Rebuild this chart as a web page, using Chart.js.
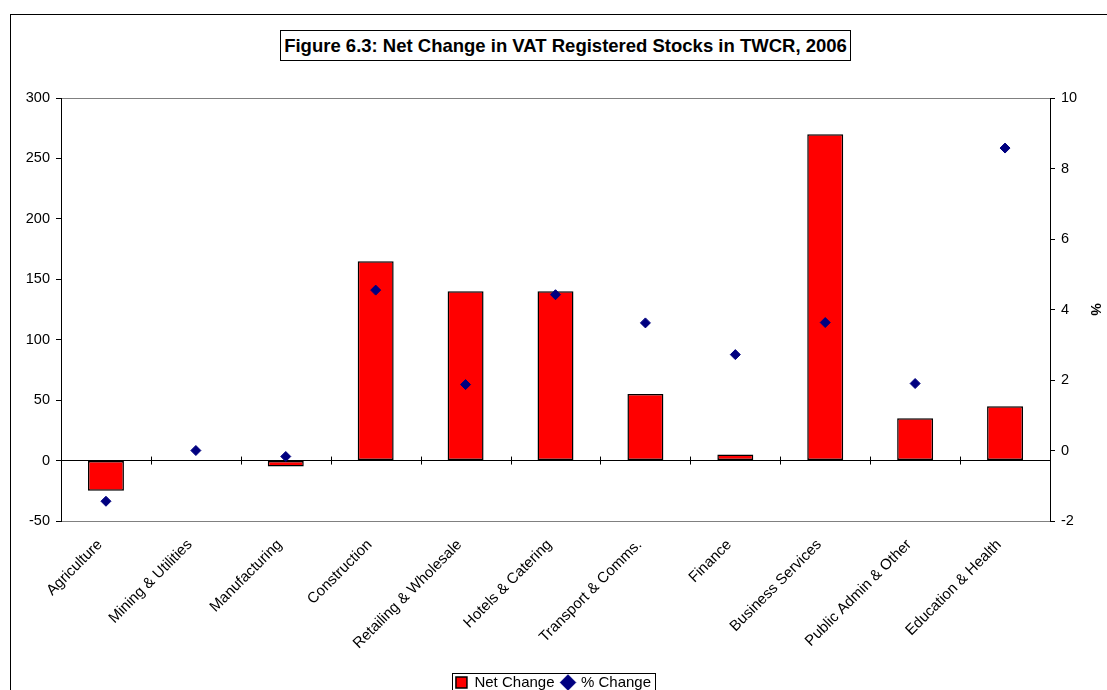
<!DOCTYPE html>
<html>
<head>
<meta charset="utf-8">
<script src="https://cdn.jsdelivr.net/npm/chart.js@4/dist/chart.umd.min.js"></script>
<style>
  html, body { margin: 0; padding: 0; background: #fff; overflow: hidden; }
  #frame { position: absolute; left: 10px; top: 14px; width: 1200px; height: 800px; border: 1.5px solid #000; box-sizing: border-box; }
  #wrap { position: absolute; left: 0; top: 0; width: 1107px; height: 700px; }
  #title { position: absolute; left: 280px; top: 30px; width: 571px; height: 31px; border: 1px solid #000; box-sizing: border-box;
    font: bold 18.5px "Liberation Sans", Arial, sans-serif; text-align: center; line-height: 29px; color: #000; background: #fff; white-space: nowrap; }
</style>
</head>
<body>
<div id="frame"></div>
<div id="wrap"><canvas id="chart" width="1107" height="700"></canvas></div>
<div id="title">Figure 6.3: Net Change in VAT Registered Stocks in TWCR, 2006</div>
<script>
const categories = ["Agriculture", "Mining & Utilities", "Manufacturing", "Construction", "Retailing & Wholesale",
  "Hotels & Catering", "Transport & Comms.", "Finance", "Business Services", "Public Admin & Other", "Education & Health"];
const netChange = [-25, 0, -5, 165, 140, 140, 55, 5, 270, 35, 45];
const pctChange = [-1.44, 0.0, -0.17, 4.55, 1.87, 4.42, 3.62, 2.72, 3.63, 1.9, 8.58];

const FONT = "'Liberation Sans', Arial, sans-serif";

// small crossing ticks on the zero line between categories + legend frame
const extras = {
  id: "extras",
  afterDraw(chart) {
    const { ctx, scales } = chart;
    const x = scales.x, y = scales.y;
    const y0 = y.getPixelForValue(0);
    const half = (x.getPixelForValue(1) - x.getPixelForValue(0)) / 2;
    ctx.save();
    ctx.strokeStyle = "#000";
    ctx.lineWidth = 1;
    ctx.beginPath();
    for (let i = 1; i < categories.length; i++) {
      const px = Math.round(x.getPixelForValue(i) - half) + 0.5;
      ctx.moveTo(px, y0 - 4);
      ctx.lineTo(px, y0 + 4);
    }
    ctx.stroke();
    const hb = chart.legend.legendHitBoxes;
    if (hb && hb.length) {
      const l = hb[0].left - 4, r = hb[hb.length - 1].left + hb[hb.length - 1].width + 4;
      const t = hb[0].top - 2, b = hb[0].top + hb[0].height + 4;
      ctx.strokeStyle = "#000";
      ctx.strokeRect(Math.round(l) + 0.5, Math.round(t) + 0.5, Math.round(r - l), Math.round(b - t));
    }
    ctx.restore();
  }
};

new Chart(document.getElementById("chart"), {
  data: {
    labels: categories,
    datasets: [
      {
        type: "scatter",
        label: "% Change",
        data: pctChange,
        yAxisID: "y1",
        backgroundColor: "#000080",
        borderColor: "#000080",
        pointStyle: "rectRot",
        pointRadius: 5,
        showLine: false,
        order: 0
      },
      {
        type: "bar",
        label: "Net Change",
        data: netChange,
        yAxisID: "y",
        backgroundColor: "#FF0000",
        borderColor: "#000",
        borderWidth: 1.5,
        borderSkipped: false,
        pointStyle: "rect",
        barPercentage: 0.4,
        categoryPercentage: 1,
        order: 1
      }
    ]
  },
  options: {
    responsive: false,
    animation: false,
    layout: { padding: { top: 98, left: 0, right: 0, bottom: 0 } },
    plugins: {
      tooltip: { enabled: false },
      legend: {
        position: "bottom",
        reverse: true,
        labels: {
          usePointStyle: true,
          boxWidth: 11, boxHeight: 11,
          padding: 8,
          color: "#000",
          font: { family: FONT, size: 15 }
        }
      }
    },
    scales: {
      x: {
        type: "category",
        offset: true,
        grid: { display: false, drawOnChartArea: false },
        border: { display: false },
        ticks: { color: "#000", font: { family: FONT, size: 15 }, minRotation: 45, maxRotation: 45, padding: 7, labelOffset: -6, autoSkip: false },
        afterFit(s) { s.height = 146; }
      },
      y: {
        position: "left",
        min: -50, max: 300,
        ticks: { stepSize: 50, color: "#000", font: { family: FONT, size: 14.5 }, padding: 6 },
        border: { display: true, color: "#000", width: 1 },
        grid: {
          drawOnChartArea: true,
          tickLength: 5,
          tickColor: "#000",
          color: c => c.tick.value === 0 ? "#000" : (c.tick.value === 300 || c.tick.value === -50 ? "#808080" : "rgba(0,0,0,0)")
        },
        afterFit(s) { s.width = 61; }
      },
      y1: {
        position: "right",
        min: -2, max: 10,
        ticks: { stepSize: 2, color: "#000", font: { family: FONT, size: 14.5 }, padding: 6 },
        border: { display: true, color: "#000", width: 1 },
        grid: { drawOnChartArea: false, tickLength: 5, tickColor: "#000" },
        title: { display: true, text: "%", color: "#000", font: { family: FONT, size: 14, weight: "bold" }, padding: 4 },
        afterFit(s) { s.width = 57; }
      }
    }
  },
  plugins: [extras]
});
</script>
</body>
</html>
